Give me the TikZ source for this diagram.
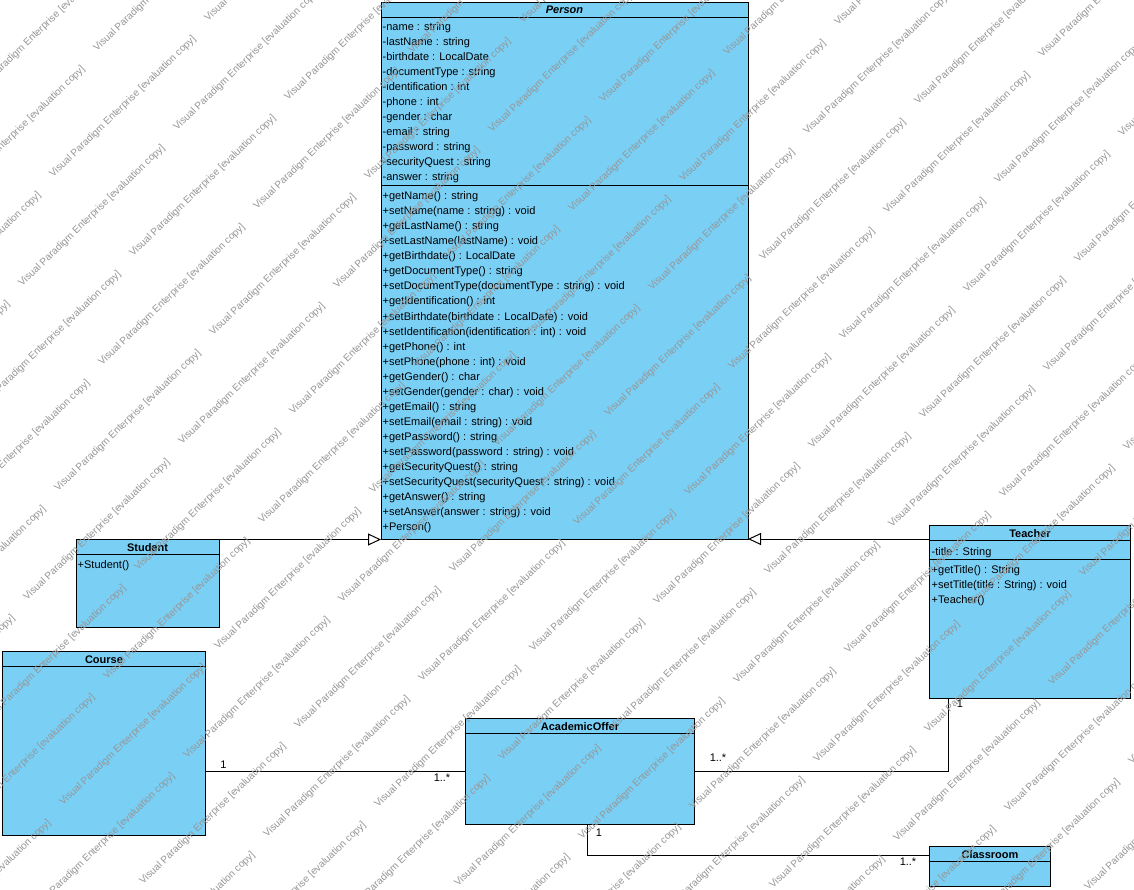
\documentclass[tikz,border=0pt]{standalone}
\usepackage{fontspec}
\setmainfont{Liberation Sans}
\usetikzlibrary{arrows.meta}
\definecolor{vpblue}{RGB}{122,207,245}
\definecolor{wmgray}{RGB}{150,150,150}
\begin{document}
\begin{tikzpicture}[x=1pt,y=-1pt,
  cls/.style={draw=black, line width=1pt, fill=vpblue, anchor=north west, inner sep=0pt, outer sep=0pt},
  sep/.style={draw=black, line width=1pt},
  conn/.style={draw=black, line width=1pt},
  inh/.style={conn, -{Triangle[length=13pt,width=12pt,fill=white,line width=1pt]}},
  txt/.style={anchor=base west, inner sep=0pt, font=\fontsize{11}{13}\selectfont},
  hdr/.style={anchor=base, inner sep=0pt, font=\fontsize{11}{13}\selectfont\bfseries},
  mult/.style={anchor=center, inner sep=0pt, font=\fontsize{11}{13}\selectfont},
  wm/.style={anchor=base west, inner sep=0pt, rotate=44, text=wmgray, font=\fontsize{10}{12}\selectfont}]
\useasboundingbox (0,0) rectangle (1134,890);
\fill[white] (0,0) rectangle (1134,890);

% ---------- classes ----------
\node[cls, minimum width=367pt, minimum height=536.5pt] (person) at (381,2.5) {};
\node[cls, minimum width=143pt, minimum height=88pt] (student) at (76,539.5) {};
\node[cls, minimum width=203pt, minimum height=184pt] (course) at (2.5,651.5) {};
\node[cls, minimum width=229pt, minimum height=106pt] (acad) at (465.5,718.5) {};
\node[cls, minimum width=201pt, minimum height=173pt] (teacher) at (929.5,525.5) {};
\node[cls, minimum width=120.5pt, minimum height=39.5pt] (classroom) at (929.5,846.5) {};

% compartment separators
\draw[sep] (person.west |- 0,17.5) -- (person.east |- 0,17.5);
\draw[sep] (person.west |- 0,186) -- (person.east |- 0,186);
\draw[sep] (student.west |- 0,554.5) -- (student.east |- 0,554.5);
\draw[sep] (course.west |- 0,666.5) -- (course.east |- 0,666.5);
\draw[sep] (acad.west |- 0,733.5) -- (acad.east |- 0,733.5);
\draw[sep] (teacher.west |- 0,540.5) -- (teacher.east |- 0,540.5);
\draw[sep] (teacher.west |- 0,559.5) -- (teacher.east |- 0,559.5);
\draw[sep] (classroom.west |- 0,861) -- (classroom.east |- 0,861);

% headers
\node[hdr, font=\fontsize{11}{13}\selectfont\bfseries\itshape] (personT) at (564.5,14) {Person};
\node[hdr] (studentT) at (147.5,551) {Student};
\node[hdr] (courseT) at (104,663) {Course};
\node[hdr] (acadT) at (580,730) {AcademicOffer};
\node[hdr] (teacherT) at (1030,537.5) {Teacher};
\node[hdr] (classroomT) at (990,858) {Classroom};

% Person attributes
\foreach \t [count=\k from 0] in {-name : string, -lastName : string, -birthdate : LocalDate, -documentType : string, -identification : int, -phone : int, -gender : char, -email : string, -password : string, -securityQuest : string, -answer : string}
  \node[txt] (pa\k) at (382.5,31+15*\k) {\t};
% Person operations
\foreach \t [count=\k from 0] in {+getName() : string, +setName(name : string) : void, +getLastName() : string, +setLastName(lastName) : void, +getBirthdate() : LocalDate, +getDocumentType() : string, +setDocumentType(documentType : string) : void, +getIdentification() : int, +setBirthdate(birthdate : LocalDate) : void, +setIdentification(identification : int) : void, +getPhone() : int, +setPhone(phone : int) : void, +getGender() : char, +setGender(gender : char) : void, +getEmail() : string, +setEmail(email : string) : void, +getPassword() : string, +setPassword(password : string) : void, +getSecurityQuest() : string, +setSecurityQuest(securityQuest : string) : void, +getAnswer() : string, +setAnswer(answer : string) : void, +Person()}
  \node[txt] (po\k) at (382.5,200+15*\k) {\t};

\node[txt] (so0) at (77.5,568.5) {+Student()};
\node[txt] (ta0) at (931.5,555) {-title : String};
\node[txt] (to0) at (931.5,573.5) {+getTitle() : String};
\node[txt] (to1) at (931.5,588.5) {+setTitle(title : String) : void};
\node[txt] (to2) at (931.5,603.5) {+Teacher()};

% ---------- connectors ----------
\draw[inh] (student.north east) -- (student.north east -| person.west);
\draw[inh] (teacher.west |- person.south east) -- (person.south east);
\draw[conn] (course.east |- acad.west) -- (acad.west);
\coordinate (tbot) at ([xshift=19pt]teacher.south west);
\draw[conn] (acad.east) -| (tbot);
\coordinate (abot) at ([xshift=122pt]acad.south west);
\coordinate (cleft) at ([yshift=-8.8pt]classroom.north west);
\draw[conn] (abot) |- (cleft);

% multiplicities
\node[mult] (m1) at (223.5,765) {1};
\node[mult] (m2) at (442,778) {1..*};
\node[mult] (m3) at (718,758) {1..*};
\node[mult] (m4) at (960,704) {1};
\node[mult] (m5) at (599,832.5) {1};
\node[mult] (m6) at (908,862) {1..*};

% ---------- watermark ----------
\begin{scope}
\clip (0,0) rectangle (1134,890);
\foreach \i in {-4,...,5}{
  \foreach \j in {-12,...,3}{
    \pgfmathsetmacro\wx{22+155*\i-80*\j}
    \pgfmathsetmacro\wy{287-156*\i-79*\j}
    \node[wm] (wa\i\j) at (\wx,\wy) {Visual Paradigm Enterprise [evaluation copy]};
    \node[wm] (wb\i\j) at (\wx+111,\wy-30) {Visual Paradigm Enterprise [evaluation copy]};
  }
}
\end{scope}
\end{tikzpicture}
\end{document}
